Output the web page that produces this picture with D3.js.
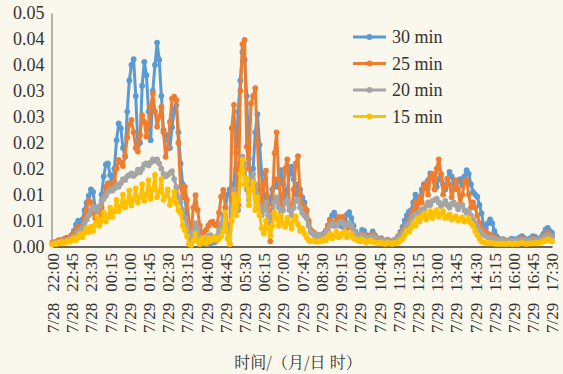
<!DOCTYPE html>
<html>
<head>
<meta charset="utf-8">
<script src="https://cdn.jsdelivr.net/npm/d3@7"></script>
<style>
  html, body { margin: 0; padding: 0; background: #faf7ec; }
  svg { display: block; }
</style>
</head>
<body>
<div id="chart"></div>
<script>
// Tick labels on the time axis (every 45 minutes)
const tickLabels = [
  "7/28 22:00", "7/28 22:45", "7/28 23:30", "7/29 00:15", "7/29 01:00", "7/29 01:45",
  "7/29 02:30", "7/29 03:15", "7/29 04:00", "7/29 04:45", "7/29 05:30", "7/29 06:15",
  "7/29 07:00", "7/29 07:45", "7/29 08:30", "7/29 09:15", "7/29 10:00", "7/29 10:45",
  "7/29 11:30", "7/29 12:15", "7/29 13:00", "7/29 13:45", "7/29 14:30", "7/29 15:15",
  "7/29 16:00", "7/29 16:45", "7/29 17:30"
];

// Y-axis ticks and the labels as printed (two decimals)
const yTickValues = [0, 0.005, 0.01, 0.015, 0.02, 0.025, 0.03, 0.035, 0.04, 0.045];
const yTickLabels = ["0.00", "0.01", "0.01", "0.02", "0.02", "0.03", "0.03", "0.04", "0.04", "0.05"];

const seriesNames = ["30 min", "25 min", "20 min", "15 min"];

// 5-minute samples, 22:00 (7/28) to 17:30 (7/29); one row per 45 minutes
const v30 = [
  0.0005,0.0008,0.0006,0.0010,0.0012,0.0009,0.0014,0.0017,0.0015,
  0.0022,0.0030,0.0042,0.0050,0.0046,0.0052,0.0070,0.0085,0.0098,
  0.0110,0.0105,0.0075,0.0052,0.0068,0.0100,0.0135,0.0158,0.0160,
  0.0138,0.0112,0.0150,0.0205,0.0237,0.0228,0.0190,0.0173,0.0260,
  0.0320,0.0350,0.0361,0.0290,0.0195,0.0200,0.0310,0.0356,0.0330,
  0.0260,0.0205,0.0300,0.0350,0.0393,0.0360,0.0290,0.0224,0.0215,
  0.0205,0.0190,0.0230,0.0265,0.0272,0.0220,0.0160,0.0120,0.0095,
  0.0060,0.0025,0.0012,0.0018,0.0030,0.0015,0.0008,0.0006,0.0010,
  0.0008,0.0005,0.0006,0.0010,0.0008,0.0012,0.0020,0.0035,0.0060,
  0.0075,0.0100,0.0110,0.0090,0.0120,0.0180,0.0260,0.0320,0.0375,
  0.0360,0.0290,0.0170,0.0120,0.0150,0.0220,0.0255,0.0196,0.0140,
  0.0100,0.0080,0.0095,0.0085,0.0110,0.0130,0.0115,0.0125,0.0147,
  0.0120,0.0090,0.0110,0.0140,0.0154,0.0130,0.0100,0.0120,0.0110,
  0.0095,0.0085,0.0070,0.0045,0.0030,0.0025,0.0022,0.0020,0.0022,
  0.0020,0.0025,0.0030,0.0040,0.0052,0.0060,0.0065,0.0055,0.0045,
  0.0040,0.0038,0.0050,0.0062,0.0066,0.0055,0.0040,0.0028,0.0020,
  0.0022,0.0032,0.0030,0.0022,0.0018,0.0022,0.0029,0.0022,0.0016,
  0.0014,0.0016,0.0012,0.0010,0.0013,0.0011,0.0009,0.0012,0.0014,
  0.0020,0.0028,0.0038,0.0050,0.0060,0.0067,0.0070,0.0085,0.0100,
  0.0090,0.0095,0.0110,0.0120,0.0112,0.0128,0.0141,0.0138,0.0125,
  0.0115,0.0130,0.0135,0.0120,0.0110,0.0130,0.0144,0.0135,0.0120,
  0.0115,0.0125,0.0130,0.0118,0.0135,0.0147,0.0140,0.0120,0.0105,
  0.0100,0.0096,0.0080,0.0064,0.0040,0.0035,0.0045,0.0052,0.0045,
  0.0030,0.0020,0.0015,0.0012,0.0014,0.0012,0.0010,0.0012,0.0015,
  0.0014,0.0012,0.0015,0.0018,0.0020,0.0016,0.0012,0.0014,0.0016,
  0.0020,0.0019,0.0015,0.0014,0.0018,0.0025,0.0033,0.0036,0.0030,
  0.0026
];

const v25 = [
  0.0008,0.0006,0.0010,0.0012,0.0009,0.0013,0.0016,0.0014,0.0018,
  0.0022,0.0025,0.0032,0.0038,0.0030,0.0040,0.0055,0.0070,0.0088,
  0.0085,0.0065,0.0055,0.0050,0.0058,0.0075,0.0095,0.0115,0.0122,
  0.0115,0.0108,0.0125,0.0150,0.0167,0.0162,0.0155,0.0175,0.0210,
  0.0235,0.0244,0.0220,0.0190,0.0183,0.0215,0.0253,0.0240,0.0212,
  0.0235,0.0270,0.0295,0.0260,0.0231,0.0250,0.0269,0.0220,0.0173,
  0.0190,0.0240,0.0285,0.0289,0.0282,0.0200,0.0115,0.0095,0.0115,
  0.0090,0.0045,0.0035,0.0075,0.0099,0.0070,0.0040,0.0026,0.0028,
  0.0032,0.0040,0.0046,0.0048,0.0042,0.0040,0.0065,0.0096,0.0109,
  0.0075,0.0030,0.0005,0.0228,0.0273,0.0150,0.0080,0.0300,0.0390,
  0.0398,0.0192,0.0150,0.0276,0.0290,0.0305,0.0200,0.0110,0.0064,
  0.0120,0.0146,0.0080,0.0010,0.0070,0.0180,0.0220,0.0130,0.0080,
  0.0100,0.0150,0.0168,0.0077,0.0060,0.0110,0.0160,0.0174,0.0100,
  0.0080,0.0075,0.0070,0.0050,0.0032,0.0028,0.0025,0.0022,0.0020,
  0.0020,0.0022,0.0030,0.0040,0.0051,0.0045,0.0040,0.0050,0.0057,
  0.0054,0.0057,0.0045,0.0035,0.0040,0.0038,0.0030,0.0022,0.0018,
  0.0020,0.0025,0.0022,0.0018,0.0016,0.0020,0.0024,0.0018,0.0015,
  0.0013,0.0014,0.0011,0.0010,0.0012,0.0010,0.0009,0.0011,0.0013,
  0.0018,0.0024,0.0030,0.0038,0.0041,0.0050,0.0060,0.0070,0.0085,
  0.0070,0.0095,0.0085,0.0115,0.0122,0.0100,0.0134,0.0140,0.0110,
  0.0150,0.0168,0.0140,0.0100,0.0115,0.0131,0.0120,0.0095,0.0110,
  0.0128,0.0110,0.0080,0.0100,0.0125,0.0128,0.0100,0.0075,0.0085,
  0.0075,0.0060,0.0045,0.0035,0.0030,0.0028,0.0025,0.0022,0.0020,
  0.0018,0.0016,0.0014,0.0012,0.0013,0.0011,0.0010,0.0011,0.0012,
  0.0012,0.0011,0.0013,0.0014,0.0015,0.0013,0.0011,0.0012,0.0013,
  0.0015,0.0014,0.0012,0.0013,0.0015,0.0018,0.0022,0.0026,0.0022,
  0.0020
];

const v20 = [
  0.0005,0.0006,0.0008,0.0007,0.0009,0.0011,0.0010,0.0012,0.0014,
  0.0016,0.0018,0.0022,0.0028,0.0032,0.0036,0.0045,0.0052,0.0060,
  0.0070,0.0077,0.0072,0.0068,0.0078,0.0088,0.0092,0.0098,0.0105,
  0.0110,0.0108,0.0112,0.0118,0.0115,0.0122,0.0130,0.0128,0.0135,
  0.0138,0.0141,0.0136,0.0140,0.0148,0.0143,0.0150,0.0158,0.0160,
  0.0156,0.0162,0.0168,0.0165,0.0168,0.0160,0.0150,0.0140,0.0135,
  0.0138,0.0142,0.0145,0.0130,0.0115,0.0095,0.0085,0.0070,0.0055,
  0.0040,0.0025,0.0020,0.0030,0.0045,0.0035,0.0018,0.0010,0.0012,
  0.0015,0.0020,0.0022,0.0018,0.0016,0.0020,0.0030,0.0045,0.0055,
  0.0050,0.0040,0.0030,0.0080,0.0110,0.0090,0.0070,0.0140,0.0173,
  0.0160,0.0110,0.0090,0.0130,0.0140,0.0120,0.0100,0.0080,0.0060,
  0.0070,0.0085,0.0060,0.0040,0.0055,0.0085,0.0095,0.0075,0.0065,
  0.0070,0.0085,0.0090,0.0070,0.0060,0.0075,0.0088,0.0090,0.0075,
  0.0065,0.0060,0.0055,0.0040,0.0028,0.0025,0.0022,0.0022,0.0020,
  0.0020,0.0022,0.0026,0.0032,0.0040,0.0045,0.0042,0.0040,0.0045,
  0.0048,0.0045,0.0040,0.0042,0.0045,0.0040,0.0032,0.0025,0.0020,
  0.0018,0.0022,0.0020,0.0017,0.0015,0.0018,0.0020,0.0016,0.0014,
  0.0012,0.0013,0.0011,0.0010,0.0011,0.0010,0.0009,0.0010,0.0012,
  0.0015,0.0020,0.0026,0.0032,0.0040,0.0045,0.0050,0.0058,0.0062,
  0.0060,0.0068,0.0072,0.0070,0.0078,0.0085,0.0080,0.0088,0.0090,
  0.0092,0.0085,0.0078,0.0082,0.0088,0.0080,0.0075,0.0082,0.0085,
  0.0080,0.0072,0.0078,0.0080,0.0070,0.0065,0.0068,0.0060,0.0052,
  0.0045,0.0040,0.0032,0.0026,0.0022,0.0020,0.0018,0.0017,0.0016,
  0.0014,0.0013,0.0012,0.0011,0.0012,0.0010,0.0010,0.0011,0.0011,
  0.0011,0.0010,0.0012,0.0012,0.0013,0.0012,0.0011,0.0011,0.0012,
  0.0012,0.0013,0.0012,0.0012,0.0014,0.0016,0.0020,0.0022,0.0020,
  0.0018
];

const v15 = [
  0.0004,0.0006,0.0005,0.0007,0.0009,0.0006,0.0008,0.0011,0.0009,
  0.0012,0.0016,0.0012,0.0018,0.0024,0.0018,0.0026,0.0035,0.0028,
  0.0038,0.0030,0.0042,0.0057,0.0040,0.0050,0.0065,0.0048,0.0058,
  0.0075,0.0057,0.0068,0.0090,0.0068,0.0078,0.0100,0.0075,0.0085,
  0.0108,0.0079,0.0092,0.0112,0.0085,0.0095,0.0120,0.0088,0.0100,
  0.0128,0.0092,0.0110,0.0138,0.0095,0.0105,0.0130,0.0090,0.0098,
  0.0110,0.0080,0.0090,0.0105,0.0083,0.0070,0.0065,0.0040,0.0032,
  0.0020,0.0005,0.0003,0.0012,0.0025,0.0010,0.0005,0.0015,0.0008,
  0.0006,0.0016,0.0010,0.0014,0.0018,0.0012,0.0016,0.0020,0.0030,
  0.0065,0.0015,0.0005,0.0050,0.0100,0.0060,0.0090,0.0140,0.0167,
  0.0120,0.0131,0.0080,0.0110,0.0125,0.0070,0.0095,0.0060,0.0035,
  0.0025,0.0050,0.0035,0.0020,0.0040,0.0065,0.0055,0.0040,0.0060,
  0.0045,0.0038,0.0055,0.0045,0.0035,0.0050,0.0058,0.0042,0.0030,
  0.0035,0.0025,0.0018,0.0012,0.0010,0.0012,0.0010,0.0009,0.0011,
  0.0010,0.0014,0.0012,0.0018,0.0025,0.0016,0.0020,0.0028,0.0018,
  0.0020,0.0026,0.0029,0.0018,0.0022,0.0025,0.0016,0.0014,0.0012,
  0.0010,0.0014,0.0011,0.0008,0.0010,0.0012,0.0009,0.0008,0.0007,
  0.0006,0.0008,0.0006,0.0005,0.0007,0.0006,0.0005,0.0007,0.0006,
  0.0008,0.0012,0.0015,0.0022,0.0030,0.0028,0.0036,0.0045,0.0040,
  0.0055,0.0048,0.0058,0.0064,0.0052,0.0058,0.0068,0.0055,0.0062,
  0.0070,0.0058,0.0062,0.0068,0.0055,0.0058,0.0062,0.0052,0.0055,
  0.0058,0.0050,0.0052,0.0056,0.0048,0.0050,0.0054,0.0045,0.0040,
  0.0030,0.0022,0.0015,0.0010,0.0008,0.0007,0.0006,0.0007,0.0006,
  0.0006,0.0005,0.0006,0.0005,0.0006,0.0005,0.0005,0.0006,0.0005,
  0.0005,0.0006,0.0005,0.0006,0.0007,0.0006,0.0005,0.0006,0.0006,
  0.0006,0.0007,0.0006,0.0007,0.0008,0.0010,0.0012,0.0014,0.0012,
  0.0010
];

const seriesColors = ["#5b9bd5", "#ed7d31", "#a5a5a5", "#ffc000"];
const seriesValues = [v30, v25, v20, v15];

// Category labels: one per 5-minute sample starting 7/28 22:00
function pad(n) { return String(n).padStart(2, "0"); }
const categories = v30.map((_, i) => {
  const m = 22 * 60 + i * 5;
  const day = m >= 24 * 60 ? 29 : 28;
  const mm = m % (24 * 60);
  return `7/${day} ${pad(Math.floor(mm / 60))}:${pad(mm % 60)}`;
});

const W = 563, H = 374;
const axisX = 51.5, axisY = 246.5, topY = 13;

const svg = d3.select("#chart").append("svg")
  .attr("width", W).attr("height", H);

svg.append("rect").attr("width", W).attr("height", H).attr("fill", "#faf7ec");

const x = d3.scalePoint().domain(categories).range([52.5, 552]);
const y = d3.scaleLinear().domain([0, 0.045]).range([axisY, topY]);

const serif = "'Liberation Serif', 'Times New Roman', 'DejaVu Serif', serif";

// Y axis
const yAxis = svg.append("g")
  .attr("transform", `translate(${axisX},0)`)
  .call(d3.axisLeft(y).tickValues(yTickValues)
    .tickFormat((d, i) => yTickLabels[i]).tickSize(0).tickPadding(7));
yAxis.select(".domain").attr("stroke", "#6b6b6b").attr("stroke-width", 1);
yAxis.selectAll("text")
  .attr("font-family", serif).attr("font-size", 18).attr("fill", "#333");

// X axis
const xAxis = svg.append("g")
  .attr("transform", `translate(0,${axisY})`)
  .call(d3.axisBottom(x).tickValues(tickLabels).tickSize(0).tickFormat(""));
xAxis.select(".domain").attr("stroke", "#333").attr("stroke-width", 1.3);
xAxis.selectAll(".tick").each(function(d) {
  const parts = d.split(" ");
  const t = d3.select(this).append("text")
    .attr("transform", "rotate(-90)")
    .attr("x", -6.5).attr("y", 0).attr("dy", "0.35em")
    .attr("text-anchor", "end")
    .attr("font-family", serif).attr("font-size", 17).attr("fill", "#333");
  t.append("tspan").text(parts[0]);
  t.append("tspan").attr("dx", 11).text(parts[1]);
});

// Axis title
svg.append("text")
  .attr("x", 298).attr("y", 361)
  .attr("text-anchor", "middle").attr("dominant-baseline", "central")
  .attr("font-family", "'Noto Serif CJK SC', 'Noto Sans CJK SC', sans-serif")
  .attr("font-size", 16).attr("fill", "#333")
  .text("时间/（月/日 时）");

// Series: lines with circular markers, first series drawn at the bottom
const line = d3.line().x((d, i) => x(categories[i])).y(d => y(d));
seriesValues.forEach((vals, s) => {
  const g = svg.append("g");
  g.append("path").datum(vals)
    .attr("d", line).attr("fill", "none")
    .attr("stroke", seriesColors[s]).attr("stroke-width", 3)
    .attr("stroke-linejoin", "round");
  g.selectAll("circle").data(vals).join("circle")
    .attr("cx", (d, i) => x(categories[i])).attr("cy", d => y(d))
    .attr("r", 2.9).attr("fill", seriesColors[s]);
});

// Legend
const legend = svg.append("g");
seriesNames.forEach((name, s) => {
  const ly = 37 + s * 26.5;
  legend.append("line")
    .attr("x1", 353).attr("x2", 386).attr("y1", ly).attr("y2", ly)
    .attr("stroke", seriesColors[s]).attr("stroke-width", 3);
  legend.append("circle").attr("cx", 369.5).attr("cy", ly).attr("r", 3)
    .attr("fill", seriesColors[s]);
  legend.append("text")
    .attr("x", 392).attr("y", ly).attr("dy", "0.35em")
    .attr("font-family", serif).attr("font-size", 18).attr("fill", "#333")
    .text(name);
});
</script>
</body>
</html>
